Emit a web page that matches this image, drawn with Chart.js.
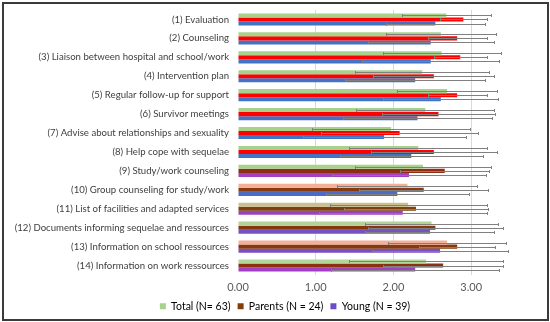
<!DOCTYPE html>
<html>
<head>
<meta charset="utf-8">
<script src="https://cdn.jsdelivr.net/npm/chart.js@4.4.1/dist/chart.umd.min.js"></script>
<style>
  html, body { margin: 0; padding: 0; background: #fff; }
  #wrap { position: relative; width: 550px; height: 322px; }
  #frame { position: absolute; left: 2px; top: 2px; width: 543px; height: 315px; border: 2px solid #3a3a3a; pointer-events: none; }
  canvas { position: absolute; left: 0; top: 0; }
</style>
</head>
<body>
<div id="wrap">
  <canvas id="chartBantuan" width="550" height="322"></canvas>
  <div id="frame"></div>
</div>
<script>
// data kategori dan nilai rata-rata
const categories = [
    '(1) Evaluation',
    '(2) Counseling',
    '(3) Liaison between hospital and school/work',
    '(4) Intervention plan',
    '(5) Regular follow-up for support',
    '(6) Survivor meetings',
    '(7) Advise about relationships and sexuality',
    '(8) Help cope with sequelae',
    '(9) Study/work counseling',
    '(10) Group counseling for study/work',
    '(11) List of facilities and adapted services',
    '(12) Documents informing sequelae and ressources',
    '(13) Information on school ressources',
    '(14) Information on work ressources'
];
const seriesNames = ['Total (N= 63)', 'Parents (N = 24)', 'Young (N = 39)'];

const totalValues   = [2.68, 2.61, 2.62, 2.37, 2.69, 2.41, 1.97, 2.32, 2.38, 2.18, 2.19, 2.49, 2.69, 2.42];
const parentsValues = [2.90, 2.82, 2.86, 2.52, 2.82, 2.58, 2.08, 2.52, 2.66, 2.39, 2.29, 2.54, 2.82, 2.64];
const youngValues   = [2.54, 2.48, 2.48, 2.28, 2.61, 2.31, 1.88, 2.23, 2.20, 2.05, 2.12, 2.47, 2.60, 2.28];

// simpangan (error bar)
const totalErr   = [0.57, 0.71, 0.76, 0.86, 0.64, 0.89, 1.02, 0.89, 0.87, 0.90, 1.01, 0.86, 0.76, 0.99];
const parentsErr = [0.30, 0.38, 0.34, 0.78, 0.38, 0.73, 1.01, 0.81, 0.57, 0.83, 0.93, 0.87, 0.49, 0.77];
const youngErr   = [0.64, 0.81, 0.88, 0.90, 0.74, 0.96, 1.05, 0.92, 0.99, 0.92, 1.08, 0.83, 0.88, 1.08];

const xTicks = [0, 1, 2, 3];

// warna per batang (gambar asli tidak konsisten di baris bawah)
const totalColors = ['#a9d18e', '#a9d18e', '#a9d18e', '#a9d18e', '#a9d18e', '#a9d18e', '#a9d18e',
                     '#a9d18e', '#a9d18e', '#f4b095', '#cbbf8e', '#b2d396', '#f6b09a', '#b3d69a'];
const parentsColors = ['#ff0000', '#ff0000', '#ff0000', '#ff0000', '#ff0000', '#ff0000', '#ff0000',
                       '#ff0000', '#8e2c14', '#8a3a10', '#7c3f0e', '#86370e', '#853a0e', '#8a3210'];
const youngColors = ['#4472c4', '#4472c4', '#4472c4', '#4472c4', '#4472c4', '#4472c4', '#4472c4',
                     '#4472c4', '#a43fc2', '#4a6cc6', '#9c40c0', '#7452c4', '#7a4ec4', '#a43fc4'];
const legendColors = ['#a9d18e', '#843c0c', '#6a4cc8'];

const errorSets = [totalErr, parentsErr, youngErr];

const errorBarPlugin = {
    id: 'errorBars',
    afterDatasetsDraw(chart) {
        const ctx = chart.ctx;
        const xScale = chart.scales.x;
        ctx.save();
        ctx.strokeStyle = '#808080';
        ctx.lineWidth = 1;
        chart.data.datasets.forEach((ds, di) => {
            const meta = chart.getDatasetMeta(di);
            meta.data.forEach((bar, i) => {
                const v = ds.data[i];
                const e = errorSets[di][i];
                const x1 = Math.round(xScale.getPixelForValue(v - e)) + 0.5;
                const x2 = Math.round(xScale.getPixelForValue(v + e)) + 0.5;
                const y = Math.round(bar.y) + 0.5;
                ctx.beginPath();
                ctx.moveTo(x1, y); ctx.lineTo(x2, y);
                ctx.moveTo(x1, y - 1.5); ctx.lineTo(x1, y + 1.5);
                ctx.moveTo(x2, y - 1.5); ctx.lineTo(x2, y + 1.5);
                ctx.stroke();
            });
        });
        ctx.restore();
    }
};

// tinggi legenda dipaku, lalu digeser ke kanan seperti aslinya
const legendHeightPlugin = {
    id: 'legendHeight',
    afterInit(chart) {
        const lg = chart.legend;
        if (!lg) return;
        const origFit = lg.fit.bind(lg);
        lg.fit = function () { origFit(); this.height = 28; };
    },
    beforeDraw(chart) {
        const lg = chart.legend;
        if (!lg) return;
        lg.left += 30;
        lg.right += 30;
    }
};

const fontFamily = "'Lato', 'Liberation Sans', sans-serif";

new Chart(document.getElementById('chartBantuan'), {
    type: 'bar',
    data: {
        labels: categories,
        datasets: [
            { label: seriesNames[0], data: totalValues, backgroundColor: totalColors },
            { label: seriesNames[1], data: parentsValues, backgroundColor: parentsColors },
            { label: seriesNames[2], data: youngValues, backgroundColor: youngColors }
        ]
    },
    options: {
        indexAxis: 'y',
        responsive: false,
        animation: false,
        devicePixelRatio: 1,
        categoryPercentage: 0.64,
        barPercentage: 1,
        layout: { padding: { left: 0, right: 40, top: 10, bottom: 0 } },
        scales: {
            x: {
                min: 0,
                max: 3.5,
                afterBuildTicks: s => { s.ticks = xTicks.map(v => ({ value: v })); },
                afterFit: s => { s.height = 19; },
                ticks: { callback: v => Number(v).toFixed(2), color: '#595959', font: { family: fontFamily, size: 11 }, padding: 6 },
                grid: { color: c => c.tick && c.tick.value === 0 ? 'rgba(0,0,0,0)' : '#d9d9d9', drawTicks: false },
                border: { display: false }
            },
            y: {
                afterFit: s => { s.width = 238; s.paddingTop = 0; s.paddingBottom = 0; },
                ticks: { color: '#404040', font: { family: fontFamily, size: 9.6 }, padding: 9, autoSkip: false },
                grid: { display: false, drawTicks: false },
                border: { display: false }
            }
        },
        plugins: {
            tooltip: { enabled: false },
            legend: {
                position: 'bottom',
                labels: {
                    boxWidth: 6, boxHeight: 6, padding: 7,
                    color: '#595959',
                    font: { family: fontFamily, size: 10.5 },
                    generateLabels: chart => seriesNames.map((n, i) => ({
                        text: n, fillStyle: legendColors[i], strokeStyle: legendColors[i], lineWidth: 0, datasetIndex: i
                    }))
                }
            }
        }
    },
    plugins: [errorBarPlugin, legendHeightPlugin]
});
</script>
</body>
</html>
